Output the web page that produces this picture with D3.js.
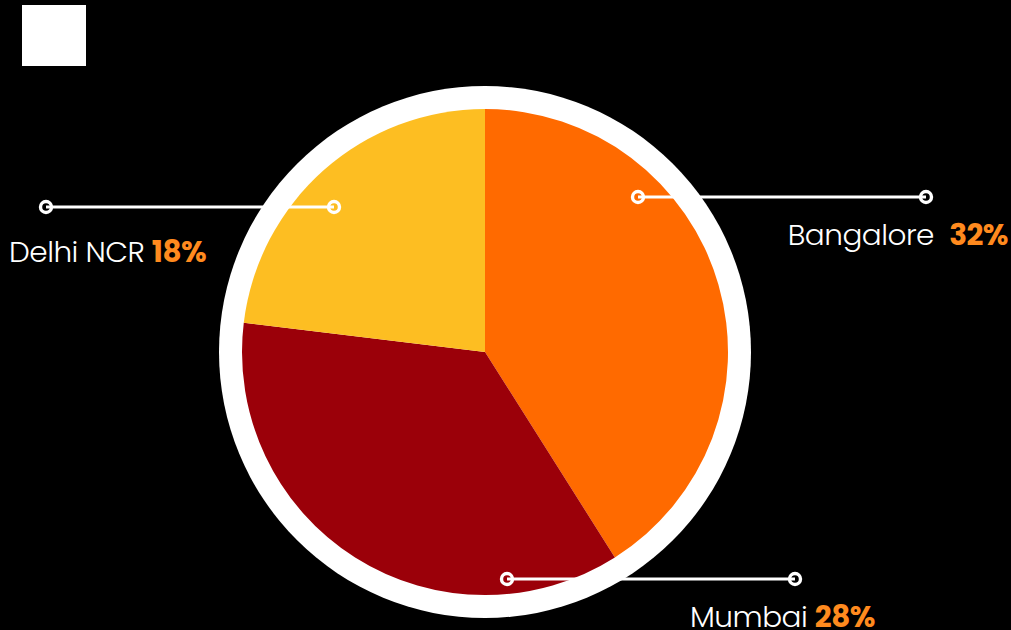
<!DOCTYPE html>
<html>
<head>
<meta charset="utf-8">
<script src="https://cdn.jsdelivr.net/npm/d3@7"></script>
<style>
  html, body { margin: 0; padding: 0; background: #000; }
  svg { display: block; }
</style>
</head>
<body>
<div id="chart"></div>
<script>
const cities = ['Bangalore', 'Mumbai', 'Delhi NCR'];
const shares = [32, 28, 18];

const width = 1011;
const height = 630;
const cx = 485, cy = 352;
const pieRadius = 243;
const ringRadius = 266;

// leader line layout per city: [inner marker, outer marker], label anchor
const callouts = {
  'Bangalore': { line: [[638, 197], [926, 197]], label: [1008, 245], anchor: 'end' },
  'Mumbai':    { line: [[507, 579], [795, 579]], label: [690, 627], anchor: 'start' },
  'Delhi NCR': { line: [[334, 207], [46, 207]],  label: [9, 262],   anchor: 'start' }
};

const color = d3.scaleOrdinal()
  .domain(cities)
  .range(['#ff6a00', '#9b0009', '#fdbe22']);

const data = cities.map((c, i) => ({ city: c, share: shares[i] }));

const svg = d3.select('#chart')
  .append('svg')
  .attr('width', width)
  .attr('height', height);

svg.append('rect')
  .attr('width', width)
  .attr('height', height)
  .attr('fill', '#000');

// small white square top-left
svg.append('rect')
  .attr('x', 22).attr('y', 5)
  .attr('width', 64).attr('height', 61)
  .attr('fill', '#fff');

const g = svg.append('g')
  .attr('transform', `translate(${cx},${cy})`);

g.append('circle')
  .attr('r', ringRadius)
  .attr('fill', '#fff');

const pie = d3.pie()
  .sort(null)
  .value(d => d.share);

const arc = d3.arc()
  .innerRadius(0)
  .outerRadius(pieRadius);

g.selectAll('.slice')
  .data(pie(data))
  .enter()
  .append('path')
  .attr('class', 'slice')
  .attr('d', arc)
  .attr('fill', d => color(d.data.city));

const font = "'Poppins', 'Open Sans', sans-serif";

data.forEach(d => {
  const c = callouts[d.city];
  svg.append('line')
    .attr('x1', c.line[0][0]).attr('y1', c.line[0][1])
    .attr('x2', c.line[1][0]).attr('y2', c.line[1][1])
    .attr('stroke', '#fff')
    .attr('stroke-width', 3);

  svg.selectAll(null)
    .data(c.line)
    .enter()
    .append('circle')
    .attr('cx', p => p[0])
    .attr('cy', p => p[1])
    .attr('r', 5.5)
    .attr('fill', 'none')
    .attr('stroke', '#fff')
    .attr('stroke-width', 3.4);

  const t = svg.append('text')
    .attr('x', c.label[0])
    .attr('y', c.label[1])
    .attr('text-anchor', c.anchor)
    .attr('font-family', font)
    .attr('font-size', '29.5px')
    .attr('letter-spacing', '-0.5px');

  t.append('tspan')
    .attr('fill', '#fff')
    .attr('font-weight', 300)
    .text(d.city + (d.city === 'Bangalore' ? '  ' : ' '))
    .attr('xml:space', 'preserve');

  t.append('tspan')
    .attr('fill', '#ff8a1e')
    .attr('font-weight', 700)
    .text(d.share + '%');
});
</script>
</body>
</html>
